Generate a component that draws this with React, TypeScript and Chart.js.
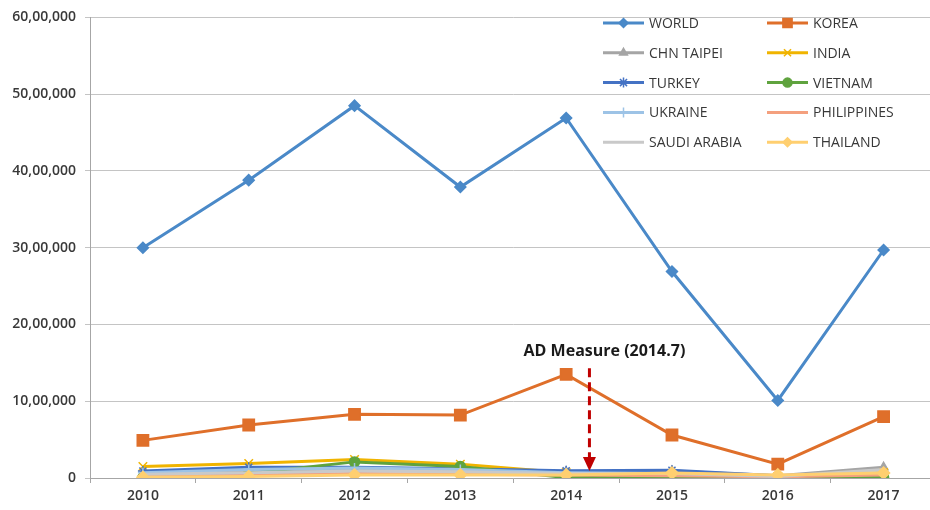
import React, { useEffect, useRef } from "react";
import { Chart, registerables } from "chart.js";
import { drawPoint } from "chart.js/helpers";

Chart.register(...registerables);

const years = ["2010", "2011", "2012", "2013", "2014", "2015", "2016", "2017"];

const world = [3000000, 3880000, 4850000, 3790000, 4690000, 2690000, 1010000, 2970000];
const korea = [490000, 690000, 830000, 820000, 1350000, 560000, 180000, 800000];
const chnTaipei = [60000, 90000, 120000, 100000, 80000, 90000, 30000, 140000];
const india = [150000, 190000, 240000, 180000, 70000, 60000, 20000, 70000];
const turkey = [90000, 140000, 140000, 120000, 95000, 100000, 30000, 60000];
const vietnam = [5000, 60000, 210000, 150000, 5000, 5000, 5000, 5000];
const ukraine = [70000, 110000, 130000, 110000, 70000, 60000, 20000, 70000];
const philippines = [30000, 40000, 60000, 50000, 40000, 30000, 15000, 40000];
const saudiArabia = [50000, 70000, 90000, 80000, 60000, 60000, 20000, 110000];
const thailand = [10000, 20000, 40000, 40000, 40000, 65000, 40000, 65000];

const yTicks = [0, 1000000, 2000000, 3000000, 4000000, 5000000, 6000000];

// annotation (category index 4 = 2014)
const adLabel = "AD Measure (2014.7)";
const adX = 4.22;
const adTop = 1430000;
const adTip = 90000;
const adTextY = 1650000;

const FONT = "'Open Sans', 'Noto Sans', sans-serif";

type Series = {
  label: string;
  data: number[];
  color: string;
  style: any;
  radius: number;
  legendRadius: number;
};

const series: Series[] = [
  { label: "WORLD", data: world, color: "#4A89C8", style: "rectRot", radius: 5.5, legendRadius: 4.5 },
  { label: "KOREA", data: korea, color: "#DF6F2A", style: "rect", radius: 8, legendRadius: 6.5 },
  { label: "CHN TAIPEI", data: chnTaipei, color: "#A5A5A5", style: "triangle", radius: 5, legendRadius: 4.5 },
  { label: "INDIA", data: india, color: "#F0B400", style: "crossRot", radius: 6, legendRadius: 5 },
  { label: "TURKEY", data: turkey, color: "#4472C4", style: "star", radius: 5, legendRadius: 5 },
  { label: "VIETNAM", data: vietnam, color: "#5FA33E", style: "circle", radius: 5, legendRadius: 4.5 },
  { label: "UKRAINE", data: ukraine, color: "#9DC3E6", style: "cross", radius: 5, legendRadius: 5 },
  { label: "PHILIPPINES", data: philippines, color: "#F4A07E", style: false, radius: 0, legendRadius: 0 },
  { label: "SAUDI ARABIA", data: saudiArabia, color: "#C9C9C9", style: false, radius: 0, legendRadius: 0 },
  { label: "THAILAND", data: thailand, color: "#FFCF70", style: "rectRot", radius: 6, legendRadius: 4.5 },
];

function formatIndian(v: number): string {
  const s = String(Math.round(v));
  if (s.length <= 3) return s;
  const last3 = s.slice(-3);
  let rest = s.slice(0, -3);
  const parts: string[] = [];
  while (rest.length > 2) {
    parts.unshift(rest.slice(-2));
    rest = rest.slice(0, -2);
  }
  if (rest.length) parts.unshift(rest);
  return parts.join(",") + "," + last3;
}

const legendPlugin = {
  id: "insideLegend",
  afterDraw(chart: any) {
    const ctx = chart.ctx;
    const colX = [603, 767];
    const rowY0 = 23;
    const rowH = 29.8;
    const lineLen = 41;
    ctx.save();
    series.forEach((s, i) => {
      const col = i % 2;
      const row = Math.floor(i / 2);
      const x0 = colX[col];
      const y0 = rowY0 + row * rowH;
      ctx.strokeStyle = s.color;
      ctx.lineWidth = 3;
      ctx.setLineDash([]);
      ctx.beginPath();
      ctx.moveTo(x0, y0);
      ctx.lineTo(x0 + lineLen, y0);
      ctx.stroke();
      if (s.style) {
        ctx.fillStyle = s.color;
        ctx.strokeStyle = s.color;
        ctx.lineWidth = 1.5;
        drawPoint(ctx, { pointStyle: s.style, radius: s.legendRadius, rotation: 0, borderWidth: 1.5 } as any, x0 + lineLen / 2, y0);
      }
      ctx.fillStyle = "#383838";
      ctx.font = `14px ${FONT}`;
      ctx.textAlign = "left";
      ctx.textBaseline = "middle";
      ctx.fillText(s.label, x0 + lineLen + 5, y0 + 1);
    });
    ctx.restore();
  },
};

const annotationPlugin = {
  id: "adMeasure",
  afterDatasetsDraw(chart: any) {
    const { ctx } = chart;
    const x = chart.scales.x;
    const y = chart.scales.y;
    const px = x.getPixelForValue(adX);
    const top = y.getPixelForValue(adTop);
    const tip = y.getPixelForValue(adTip);
    const ty = y.getPixelForValue(adTextY);
    ctx.save();
    ctx.strokeStyle = "#C00000";
    ctx.lineWidth = 3;
    ctx.setLineDash([9, 5]);
    ctx.beginPath();
    ctx.moveTo(px, top);
    ctx.lineTo(px, tip - 12);
    ctx.stroke();
    ctx.setLineDash([]);
    ctx.fillStyle = "#C00000";
    ctx.beginPath();
    ctx.moveTo(px - 6.5, tip - 14);
    ctx.lineTo(px + 6.5, tip - 14);
    ctx.lineTo(px, tip);
    ctx.closePath();
    ctx.fill();
    ctx.fillStyle = "#1a1a1a";
    ctx.font = `bold 16px ${FONT}`;
    ctx.textAlign = "center";
    ctx.textBaseline = "middle";
    ctx.fillText(adLabel, px + 15, ty);
    ctx.restore();
  },
};

export default function App() {
  const ref = useRef<HTMLCanvasElement | null>(null);

  useEffect(() => {
    if (!ref.current) return;
    const n = series.length;
    const chart = new Chart(ref.current, {
      type: "line",
      data: {
        labels: years,
        datasets: series.map((s, i) => ({
          label: s.label,
          data: s.data,
          borderColor: s.color,
          backgroundColor: s.color,
          borderWidth: 3,
          pointStyle: s.style,
          pointRadius: s.radius,
          pointBorderWidth: 1.5,
          pointBackgroundColor: s.color,
          pointBorderColor: s.color,
          tension: 0,
          fill: false,
          order: n - i,
        })),
      },
      options: {
        responsive: false,
        animation: false,
        devicePixelRatio: 1,
        layout: { padding: { top: 16, right: 5, bottom: 0, left: 0 } },
        plugins: {
          legend: { display: false },
          tooltip: { enabled: false },
          title: { display: false },
        },
        scales: {
          x: {
            type: "category",
            offset: true,
            afterFit: (scale: any) => {
              scale.height = 32;
            },
            grid: {
              offset: true,
              drawOnChartArea: false,
              drawTicks: true,
              tickLength: 5,
              color: "#a6a6a6",
            },
            border: { display: true, color: "#a6a6a6", width: 1 },
            ticks: {
              color: "#383838",
              font: { family: FONT, size: 14, weight: 600 },
              padding: 5,
              maxRotation: 0,
            },
          },
          y: {
            min: 0,
            max: 6000000,
            afterFit: (scale: any) => {
              scale.width = 90;
            },
            afterBuildTicks: (scale: any) => {
              scale.ticks = yTicks.map((v) => ({ value: v }));
            },
            grid: {
              color: "#c4c4c4",
              lineWidth: 1,
              drawTicks: true,
              tickLength: 5,
            },
            border: { display: true, color: "#a6a6a6", width: 1 },
            ticks: {
              color: "#383838",
              font: { family: FONT, size: 14, weight: 600 },
              padding: 9,
              callback: (v: any) => formatIndian(Number(v)),
            },
          },
        },
      },
      plugins: [annotationPlugin, legendPlugin],
    });
    return () => chart.destroy();
  }, []);

  return (
    <div
      style={{
        position: "fixed",
        left: 0,
        top: 0,
        width: 930,
        height: 510,
        overflow: "hidden",
        background: "#fff",
      }}
    >
      <canvas ref={ref} width={946} height={510} style={{ display: "block" }} />
    </div>
  );
}
